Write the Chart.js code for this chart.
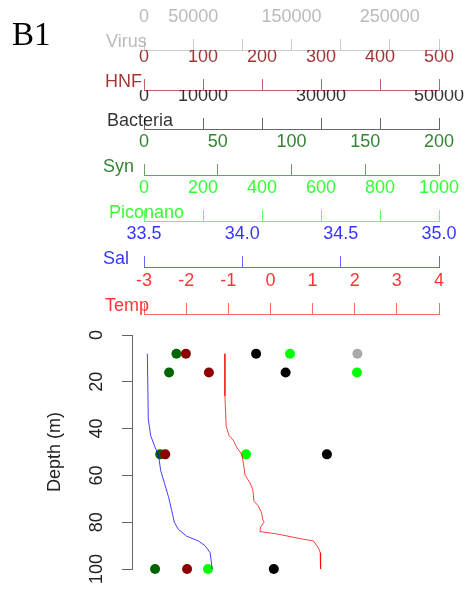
<!DOCTYPE html>
<html>
<head>
<meta charset="utf-8">
<script src="https://cdn.jsdelivr.net/npm/chart.js@4.4.0/dist/chart.umd.min.js"></script>
<style>
  html, body { margin: 0; padding: 0; background: #fff; }
  #wrap { width: 468px; height: 589px; }
</style>
</head>
<body>
<div id="wrap"><canvas id="chart" width="468" height="589"></canvas></div>
<script>
// point samples (depth in m)
const sampleDepths = [8, 16, 51, 100];
const virus = [217000, null, null, null];
const hnf = [71, 110, 36, 73];
const bacteria = [19000, 24000, 31000, 22000];
const syn = [22, 17, 11, 7.5];
const piconano = [495, 722, 346, 217];

// CTD profiles
const salDepths = [8, 36, 43, 48, 51, 58, 63, 69, 75, 80, 83, 86, 88, 90, 93, 100];
const salinity = [33.517, 33.522, 33.534, 33.556, 33.573, 33.585, 33.603, 33.624, 33.641, 33.654, 33.674, 33.717, 33.776, 33.810, 33.836, 33.847];
const tempDepths = [8, 26, 39, 43, 45, 48, 51, 55, 60, 63, 66, 71, 73, 76, 79, 80, 82, 84, 85, 87, 88, 91, 93, 100];
const temperature = [-1.08, -1.08, -1.05, -0.98, -0.88, -0.80, -0.68, -0.64, -0.60, -0.49, -0.42, -0.39, -0.29, -0.21, -0.18, -0.15, -0.23, -0.25, 0.15, 0.70, 1.02, 1.14, 1.18, 1.19];

// only these ticks get a label on the crowded axes
const virusTickLabels = [0, 50000, 150000, 250000];
const bacteriaTickLabels = [0, 10000, 30000, 50000];

const FONT = "'Liberation Sans', Arial, Helvetica, sans-serif";
Chart.defaults.font.family = FONT;

// stacked top axes, top to bottom
const axisDefs = [
    { id: 'xVirus', name: 'Virus', min: 0, max: 300000, step: 50000, rgb: '169,169,169', height: 50, nameX: 106, shown: virusTickLabels },
    { id: 'xHnf', name: 'HNF', min: 0, max: 500, step: 100, rgb: '139,0,0', height: 40, nameX: 105 },
    { id: 'xBact', name: 'Bacteria', min: 0, max: 50000, step: 10000, rgb: '0,0,0', height: 39, nameX: 107, shown: bacteriaTickLabels },
    { id: 'xSyn', name: 'Syn', min: 0, max: 200, step: 50, rgb: '0,100,0', height: 46, nameX: 103 },
    { id: 'xPico', name: 'Piconano', min: 0, max: 1000, step: 200, rgb: '0,255,0', height: 46, nameX: 109 },
    { id: 'xSal', name: 'Sal', min: 33.5, max: 35, step: 0.5, rgb: '0,0,255', height: 46, nameX: 103, fmt: v => v.toFixed(1) },
    { id: 'xTemp', name: 'Temp', min: -3, max: 4, step: 1, rgb: '255,0,0', height: 47, nameX: 105 }
];

const scales = {};
axisDefs.forEach((a, i) => {
    const lineCol = `rgba(${a.rgb},0.6)`;
    scales[a.id] = {
        type: 'linear', axis: 'x', position: 'top', weight: axisDefs.length - i,
        min: a.min, max: a.max,
        afterFit: s => { s.height = a.height; },
        border: { color: lineCol, width: 1 },
        grid: { drawOnChartArea: false, tickLength: 11, color: lineCol },
        ticks: {
            stepSize: a.step, autoSkip: false, minRotation: 0, maxRotation: 0, padding: 0,
            color: `rgba(${a.rgb},0.8)`, font: { size: 18, lineHeight: 44 / 18 },
            callback: v => (a.shown && !a.shown.includes(v)) ? '' : (a.fmt ? a.fmt(v) : String(v))
        }
    };
});
scales.xGap = {
    type: 'linear', axis: 'x', position: 'top', weight: 0, min: 0, max: 1,
    ticks: { display: false }, grid: { display: false }, border: { display: false },
    afterFit: s => { s.height = 21; }
};
scales.y = {
    type: 'linear', axis: 'y', position: 'left', weight: 1, reverse: true, min: 0, max: 100,
    afterFit: s => { s.width = 132; },
    border: { color: '#666', width: 1 },
    grid: { drawOnChartArea: false, tickLength: 10, color: '#666' },
    ticks: { stepSize: 20, minRotation: 90, maxRotation: 90, crossAlign: 'center', padding: 10, color: '#222', font: { size: 18, lineHeight: 1 } },
    title: { display: true, text: 'Depth (m)', color: '#222', font: { size: 18 }, padding: { top: 44, bottom: 0 } }
};
scales.yGap = {
    type: 'linear', axis: 'y', position: 'left', weight: 0, min: 0, max: 1,
    ticks: { display: false }, grid: { display: false }, border: { display: false },
    afterFit: s => { s.width = 12; }
};

function points(vals, color, axisId) {
    return {
        xAxisID: axisId, yAxisID: 'y',
        data: sampleDepths.map((d, i) => ({ x: vals[i], y: d })).filter(p => p.x !== null),
        pointRadius: 5, pointHoverRadius: 5, pointBorderWidth: 0,
        backgroundColor: color, borderColor: color, clip: false
    };
}
function profile(depths, vals, color, axisId) {
    return {
        xAxisID: axisId, yAxisID: 'y',
        data: depths.map((d, i) => ({ x: vals[i], y: d })),
        showLine: true, borderColor: color, borderWidth: 1, pointRadius: 0, pointHoverRadius: 0,
        tension: 0, fill: false, clip: false
    };
}

const axisNames = {
    id: 'axisNames',
    afterDraw(chart) {
        const ctx = chart.ctx;
        ctx.save();
        ctx.textAlign = 'left';
        ctx.textBaseline = 'alphabetic';
        ctx.font = `18px ${FONT}`;
        axisDefs.forEach(a => {
            ctx.fillStyle = `rgba(${a.rgb},0.8)`;
            ctx.fillText(a.name, a.nameX, chart.scales[a.id].bottom - 3);
        });
        ctx.fillStyle = '#000';
        ctx.font = "33px 'Liberation Serif', 'Times New Roman', serif";
        ctx.fillText('B1', 12, 45);
        ctx.restore();
    }
};

new Chart(document.getElementById('chart'), {
    type: 'scatter',
    data: {
        datasets: [
            profile(salDepths, salinity, 'rgba(0,0,255,0.75)', 'xSal'),
            profile(tempDepths, temperature, 'rgba(255,0,0,0.75)', 'xTemp'),
            points(hnf, '#8b0000', 'xHnf'),
            points(syn, '#006400', 'xSyn'),
            points(bacteria, '#000000', 'xBact'),
            points(piconano, '#00ff00', 'xPico'),
            points(virus, '#a9a9a9', 'xVirus')
        ]
    },
    options: {
        responsive: false,
        animation: false,
        devicePixelRatio: 1,
        layout: { padding: { left: 0, right: 29, top: 0, bottom: 20 } },
        plugins: { legend: { display: false }, tooltip: { enabled: false } },
        scales: scales
    },
    plugins: [axisNames]
});
</script>
</body>
</html>
